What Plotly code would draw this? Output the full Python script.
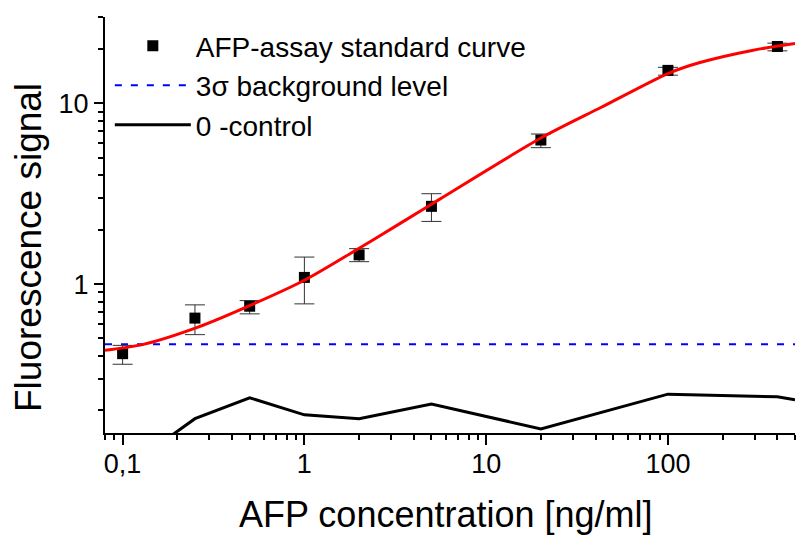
import plotly.graph_objects as go

# ---- data ----
conc = [0.1, 0.25, 0.5, 1, 2, 5, 20, 100, 400]
signal = [0.412, 0.648, 0.754, 1.088, 1.45, 2.69, 6.26, 15.2, 20.6]
err_up = [0.046, 0.119, 0.056, 0.322, 0.12, 0.47, 0.50, 0.6, 0.9]
err_down = [0.052, 0.123, 0.07, 0.311, 0.12, 0.47, 0.58, 0.9, 1.1]

fit_x = [0.08, 0.13, 0.26, 0.5, 1.0, 1.8, 3.4, 5.5, 20, 43, 100, 150, 290, 500]
fit_y = [0.43, 0.464, 0.578, 0.76, 1.05, 1.48, 2.18, 2.93, 6.42, 9.5, 14.6, 16.8, 19.6, 21.4]

bg_x = [0.08, 500]
bg_y = [0.464, 0.464]

ctrl_x = [0.1, 0.25, 0.5, 1, 2, 5, 20, 100, 400, 500]
ctrl_y = [0.093, 0.18, 0.235, 0.189, 0.18, 0.217, 0.158, 0.246, 0.238, 0.229]

x_tickvals = [0.1, 1, 10, 100]
x_ticktext = ["0,1", "1", "10", "100"]
y_tickvals = [1, 10]
y_ticktext = ["1", "10"]

FONT = "Liberation Sans, Arial, sans-serif"

fig = go.Figure()

fig.add_trace(go.Scatter(
    x=bg_x, y=bg_y, mode="lines", name="3\u03c3 background level",
    line=dict(color="#0000ff", width=2, dash="7px,9px"),
    legendrank=2, legendgroup="b"))

fig.add_trace(go.Scatter(
    x=ctrl_x, y=ctrl_y, mode="lines", name="0 -control",
    line=dict(color="black", width=3),
    legendrank=3, legendgroup="c"))

fig.add_trace(go.Scatter(
    x=conc, y=signal, mode="markers", name="AFP-assay standard curve",
    marker=dict(symbol="square", size=11, color="black"),
    error_y=dict(type="data", array=err_up, arrayminus=err_down,
                 color="#333333", thickness=1, width=10),
    legendrank=1, legendgroup="a"))

fig.add_trace(go.Scatter(
    x=fit_x, y=fit_y, mode="lines", showlegend=False,
    line=dict(color="#ff0000", width=3, shape="spline", smoothing=0.8)))

axis_common = dict(
    type="log", showline=True, linecolor="black", linewidth=2,
    ticks="outside", tickwidth=1.5, tickcolor="black",
    showgrid=False, zeroline=False, mirror=False,
    tickfont=dict(family=FONT, size=27, color="black"),
    minor=dict(ticks="outside", ticklen=5, tickwidth=1.5, tickcolor="black",
               dtick="D1", showgrid=False),
)

fig.update_xaxes(range=[-1.0969, 2.699], tickmode="array",
                 tickvals=x_tickvals, ticktext=x_ticktext, ticklen=10,
                 ticklabelstandoff=-4, **axis_common)
fig.update_yaxes(range=[-0.8239, 1.4771], tickmode="array",
                 tickvals=y_tickvals, ticktext=y_ticktext, ticklen=9,
                 **axis_common)

fig.add_annotation(text="AFP concentration [ng/ml]", xref="paper", yref="paper",
                   x=0.4935, y=-0.195, xanchor="center", yanchor="middle",
                   showarrow=False, font=dict(family=FONT, size=36, color="black"))
fig.add_annotation(text="Fluorescence signal", xref="paper", yref="paper",
                   x=-0.110, y=0.445, xanchor="center", yanchor="middle",
                   textangle=-90, showarrow=False,
                   font=dict(family=FONT, size=37, color="black"))

fig.update_layout(
    width=796, height=535,
    margin=dict(l=105, r=1, t=17, b=102),
    paper_bgcolor="white", plot_bgcolor="white",
    font=dict(family=FONT, color="black"),
    legend=dict(x=0.007, y=0.99, xanchor="left", yanchor="top",
                bgcolor="rgba(0,0,0,0)", font=dict(family=FONT, size=28, color="black"),
                itemwidth=76, tracegroupgap=4, traceorder="normal"),
)

fig.write_html("out.html", config={"displayModeBar": False},
               post_script="document.body.style.margin='0';")
